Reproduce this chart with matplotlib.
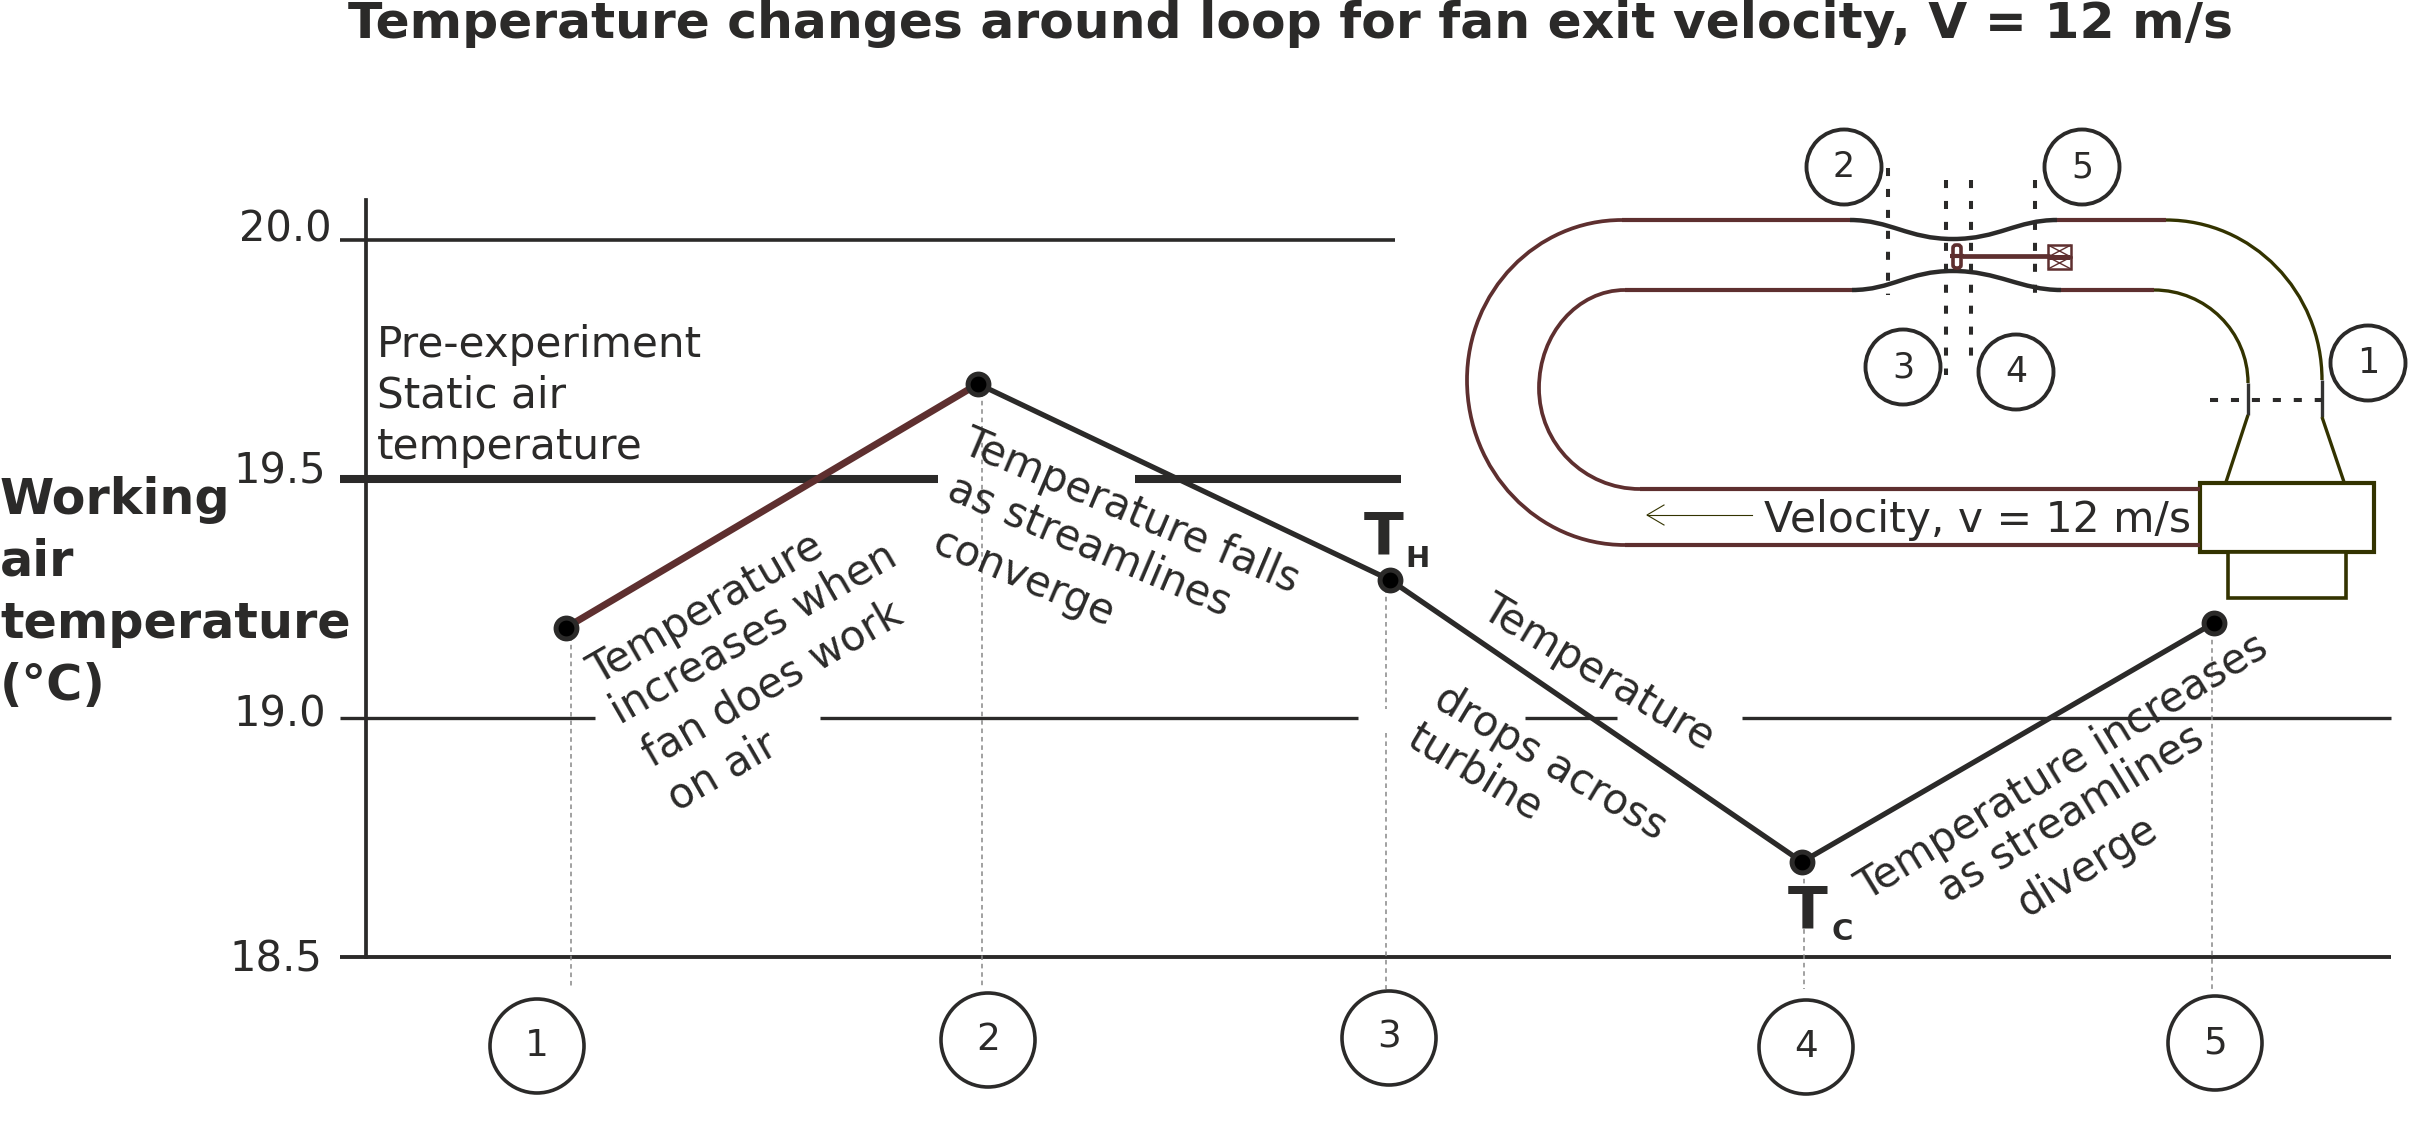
import matplotlib
matplotlib.use("Agg")
from matplotlib import pyplot as plt
from matplotlib.patches import Ellipse, PathPatch, Rectangle, FancyBboxPatch
from matplotlib.path import Path
from matplotlib.transforms import ScaledTranslation, blended_transform_factory

stations = [1, 2, 3, 4, 5]
temperatures = [19.19, 19.70, 19.29, 18.70, 19.20]
y_ticks = [18.5, 19.0, 19.5, 20.0]
y_tick_labels = ["18.5", "19.0", "19.5", "20.0"]
station_labels = ["1", "2", "3", "4", "5"]

title = "Temperature changes around loop for fan exit velocity, V = 12 m/s"
y_label = ["Working", "air", "temperature", "(°C)"]

W, H = 2422, 1124
DARK = "#2b2a29"
RED = "#5e2f2f"
OLIVE = "#333300"
KAPPA = 0.5523

fig = plt.figure(figsize=(W / 100, H / 100), dpi=100, facecolor="white")

# 0. Chart axes, placed in pixels of the reference
left, right, top, bottom = 366, 2392, 200, 957.5
ax = fig.add_axes([left / W, 1 - bottom / H, (right - left) / W, (bottom - top) / H])
ax.set_xlim(1 - (566 - left) / 412, 1 + (right - 566) / 412)
ax.set_ylim(18.5, 18.5 + (bottom - top) / 478)
for side in ["top", "right", "bottom"]:
    ax.spines[side].set_visible(False)
ax.spines["left"].set_linewidth(2.7)
ax.spines["left"].set_color(DARK)
ax.set_xticks([])
ax.set_yticks(y_ticks)
ax.set_yticklabels(y_tick_labels, fontsize=30, color=DARK, va="baseline")
ax.tick_params(axis="y", length=0, pad=29)
# the labels sit by hand at slightly different offsets from their lines
for label, (dx, dy) in zip(ax.get_yticklabels(), [(-3, -14), (0, -8), (0, -4), (6, -1)]):
    label.set_transform(label.get_transform() + ScaledTranslation(dx / 100, dy / 100, fig.dpi_scale_trans))

# overlay in reference pixels, y down
ov = fig.add_axes([0, 0, 1, 1], facecolor="none")
ov.set_xlim(0, W)
ov.set_ylim(H, 0)
ov.axis("off")

# 1. Broken grid lines, gaps leave room for the rotated notes
grid_tf = blended_transform_factory(ov.transData, ax.transData)
grid_lines = [
    (20.0, 2.6, [(340, 1395)]),
    (19.5, 5.8, [(340, 938), (1135, 1401)]),
    (19.0, 2.4, [(340, 595), (820, 1358), (1525, 1617), (1742, 2391)]),
    (18.5, 2.8, [(340, 2391)]),
]
for value, lw, spans in grid_lines:
    for x0, x1 in spans:
        ax.plot([x0, x1], [value, value], color=DARK, lw=lw, transform=grid_tf,
                clip_on=False, solid_capstyle="butt", zorder=1)

# 2. Drop lines
drop_x = [571, 982, 1386, 1804, 2212]
for x, t in zip(drop_x, temperatures):
    if x == 1386:
        # this one stops over the gap in the 19.0 line
        ax.plot([x, x], [t, 19.02], color="#888888", lw=1.1, ls=(0, (3, 2.5)),
                transform=grid_tf, clip_on=False, zorder=1)
        ax.plot([x, x], [18.97, 18.435], color="#888888", lw=1.1, ls=(0, (3, 2.5)),
                transform=grid_tf, clip_on=False, zorder=1)
    else:
        ax.plot([x, x], [t, 18.435], color="#888888", lw=1.1, ls=(0, (3, 2.5)),
                transform=grid_tf, clip_on=False, zorder=1)

# 3. Temperature line
ax.plot(stations[:2], temperatures[:2], color=RED, lw=5, zorder=3, solid_capstyle="butt")
ax.plot(stations[1:], temperatures[1:], color=DARK, lw=3.8, zorder=3, solid_capstyle="butt")
ax.plot(stations, temperatures, ls="none", marker="o", ms=15, mfc="black",
        mec=DARK, mew=3.6, zorder=4)

# 4. Station circles under the axis
bottom_circles = [(537, 1046), (988, 1040), (1389, 1038), (1806, 1047), (2215, 1043)]
for (cx, cy), lab in zip(bottom_circles, station_labels):
    ov.add_patch(Ellipse((cx, cy), 94, 94, fc="white", ec=DARK, lw=2.6))
    ov.text(cx, cy, lab, fontsize=27, color=DARK, ha="center", va="center")

# 5. Text
ov.text(1291, 24, title, fontsize=36.3, fontweight="bold", color=DARK, ha="center", va="center")
for y, line in zip([500, 562, 624, 686], y_label):
    ov.text(0, y, line, fontsize=35.5, fontweight="bold", color=DARK, ha="left", va="center")
for y, line in zip([345, 396, 447], ["Pre-experiment", "Static air", "temperature"]):
    ov.text(377, y, line, fontsize=30.3, color=DARK, ha="left", va="center")

# each rotated line anchored at the start of its baseline
notes = [
    (598, 685, 30, "Temperature"),
    (620, 725, 30, "increases when"),
    (652, 768, 30, "fan does work"),
    (677, 812, 30, "on air"),
    (960, 452, -23, "Temperature falls"),
    (945, 498, -23, "as streamlines"),
    (930, 552, -23, "converge"),
    (1479, 615, -31, "Temperature"),
    (1432, 705, -31, "drops across"),
    (1405, 745, -31, "turbine"),
    (1866, 901, 31.5, "Temperature increases"),
    (1948, 903, 31.5, "as streamlines"),
    (2027, 917, 31.5, "diverge"),
]
for x, y, rot, txt in notes:
    ov.text(x, y, txt, fontsize=30, color=DARK, ha="left", va="baseline", rotation=rot,
            rotation_mode="anchor")

ov.text(1384, 555, "T", fontsize=42, fontweight="bold", color=DARK, ha="center", va="baseline")
ov.text(1418, 567, "H", fontsize=21, fontweight="bold", color=DARK, ha="center", va="baseline")
ov.text(1808, 928, "T", fontsize=42, fontweight="bold", color=DARK, ha="center", va="baseline")
ov.text(1842, 940, "C", fontsize=21, fontweight="bold", color=DARK, ha="center", va="baseline")


# 6. Wind tunnel sketch
def draw_path(verts, codes, color, lw):
    ov.add_patch(PathPatch(Path(verts, codes), fc="none", ec=color, lw=lw, capstyle="butt"))


def loop_curve(x0, y0, xm, ym, x1, y1, color):
    # half ellipse through the far point (xm, ym)
    verts = [(x0, y0),
             (x0 + (xm - x0) * KAPPA, y0), (xm, ym + (y0 - ym) * KAPPA), (xm, ym),
             (xm, ym + (y1 - ym) * KAPPA), (x1 + (xm - x1) * KAPPA, y1), (x1, y1)]
    codes = [Path.MOVETO] + [Path.CURVE4] * 6
    draw_path(verts, codes, color, 2.7)


def quarter(x0, y0, x1, y1, color):
    verts = [(x0, y0), (x0 + (x1 - x0) * KAPPA, y0), (x1, y1 + (y0 - y1) * KAPPA), (x1, y1)]
    draw_path(verts, [Path.MOVETO] + [Path.CURVE4] * 3, color, 2.4)


def throat(x0, xm, x1, y0, ym):
    verts = [(x0, y0), (x0 + 40, y0), (xm - 45, ym), (xm, ym), (xm + 45, ym), (x1 - 40, y0), (x1, y0)]
    draw_path(verts, [Path.MOVETO] + [Path.CURVE4] * 6, DARK, 3.2)


def seg(xs, ys, color, lw=2.8):
    ov.plot(xs, ys, color=color, lw=lw, solid_capstyle="butt")


loop_curve(1622, 220, 1467, 380, 1625, 545, RED)
loop_curve(1625, 290, 1539, 388, 1640, 489, RED)
seg([1622, 1850], [220, 220], RED, 3.0)
seg([1625, 1852], [290, 290], RED, 3.0)
seg([1625, 2200], [545, 545], RED, 3.0)
seg([1640, 2200], [489, 489], RED, 3.0)
throat(1850, 1953, 2057, 220, 239)
throat(1852, 1953, 2061, 290, 271)
seg([2057, 2166], [220, 220], RED, 3.0)
seg([2061, 2154], [290, 290], RED, 3.0)
quarter(2166, 220, 2322, 380, OLIVE)
quarter(2154, 290, 2248, 383, OLIVE)
seg([2322, 2322], [380, 417], "#333333", 2.4)
seg([2248, 2248], [383, 415], "#333333", 2.4)
seg([2322, 2344], [417, 482], OLIVE, 2.4)
seg([2248, 2226], [415, 482], OLIVE, 2.4)
ov.add_patch(Rectangle((2200, 483), 174, 69, fc="white", ec=OLIVE, lw=3.0))
ov.add_patch(Rectangle((2228, 552), 118, 46, fc="white", ec=OLIVE, lw=2.6))

# section lines
for xs, ys in [([1888, 1888], [168, 295]), ([1946, 1946], [180, 375]),
               ([1971, 1971], [180, 368]), ([2035, 2035], [180, 293]),
               ([2210, 2322], [400, 400])]:
    ov.plot(xs, ys, color=DARK, lw=2.9, ls=(0, (2, 3.2)))

# turbine, shaft and bearings
ov.add_patch(FancyBboxPatch((1954, 246), 6, 21, boxstyle="round,pad=1,rounding_size=3",
                            fc="white", ec=RED, lw=2.6))
seg([1950, 1964], [256, 256], RED, 3.0)
seg([1962, 2050], [256, 256], RED, 3.4)
for y0 in [245, 257]:
    ov.add_patch(Rectangle((2048, y0), 23, 12, fc="white", ec=RED, lw=1.8))
    seg([2048, 2071], [y0, y0 + 12], RED, 1.0)
    seg([2048, 2071], [y0 + 12, y0], RED, 1.0)
seg([2048, 2070], [257, 257], RED, 3.6)

sketch_circles = [(2368, 363, "1"), (1844, 167, "2"), (1903, 367, "3"), (2016, 372, "4"), (2082, 167, "5")]
for cx, cy, lab in sketch_circles:
    ov.add_patch(Ellipse((cx, cy), 75, 75, fc="white", ec=DARK, lw=2.8))
    ov.text(cx, cy, lab, fontsize=25, color=DARK, ha="center", va="center")

# thin open arrow
ov.plot([1752, 1647], [515, 515], color=OLIVE, lw=0.8)
ov.plot([1664, 1647, 1664], [505, 515, 525], color=OLIVE, lw=0.8)
ov.text(1764, 520, "Velocity, v = 12 m/s", fontsize=30.6, color=DARK, ha="left", va="center")

fig.savefig("out.png", dpi=100, facecolor="white")
